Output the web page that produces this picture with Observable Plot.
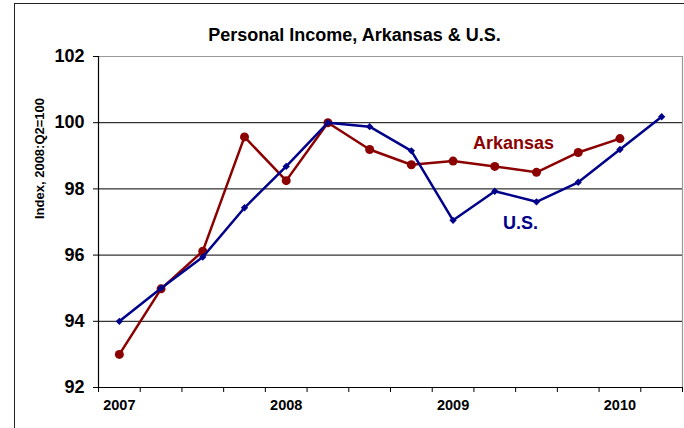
<!DOCTYPE html>
<html>
<head>
<meta charset="utf-8">
<script src="https://cdn.jsdelivr.net/npm/d3@7"></script>
<script src="https://cdn.jsdelivr.net/npm/@observablehq/plot@0.6"></script>
<style>
  html, body { margin: 0; padding: 0; background: #fff; overflow: hidden; }
  #wrap { position: relative; width: 684px; height: 428px; }
  #frame { position: absolute; left: 14px; top: 3px; width: 800px; height: 600px;
           border-left: 1.5px solid #222; border-top: 1.5px solid #222; pointer-events: none; }
</style>
</head>
<body>
<div id="wrap"><div id="chart"></div><div id="frame"></div></div>
<script>
const title = "Personal Income, Arkansas & U.S.";
const yLabel = "Index, 2008:Q2=100";
const quarters = ["2007Q1","2007Q2","2007Q3","2007Q4","2008Q1","2008Q2","2008Q3","2008Q4",
                  "2009Q1","2009Q2","2009Q3","2009Q4","2010Q1","2010Q2"];
const usValues = [94.0, 95.0, 95.94, 97.43, 98.68, 100.0, 99.88, 99.15, 97.05, 97.93, 97.61, 98.2, 99.19, 100.18];
const arkansasValues = [93.0, 94.98, 96.12, 99.57, 98.25, 100.0, 99.19, 98.73, 98.84, 98.68, 98.5, 99.1, 99.52];
const yearLabels = ["2007", "2008", "2009", "2010"];
const yTicks = [92, 94, 96, 98, 100, 102];
const gridValues = [94, 96, 98, 100];

const arColor = "#8b0000";
const usColor = "#00008b";

const us = usValues.map((v, i) => ({i, q: quarters[i], v}));
const ar = arkansasValues.map((v, i) => ({i, q: quarters[i], v}));
const boundaries = d3.range(quarters.length + 1).map(k => k - 0.5);
const yearPos = yearLabels.map(y => ({i: quarters.indexOf(y + "Q1"), text: y}));
const labelAnchor = quarters.indexOf("2009Q3");

const chart = Plot.plot({
  width: 684,
  height: 428,
  marginTop: 56,
  marginRight: 2,
  marginBottom: 41,
  marginLeft: 98,
  style: {fontFamily: "'Liberation Sans', Arial, sans-serif", background: "transparent"},
  x: {domain: [-0.5, quarters.length - 0.5], axis: null},
  y: {domain: [92, 102], axis: null},
  marks: [
    Plot.ruleY(gridValues, {stroke: "#000", strokeWidth: 1}),
    Plot.ruleY([102], {stroke: "#999", strokeWidth: 1.2}),
    Plot.ruleX([quarters.length - 0.5], {stroke: "#999", strokeWidth: 1.2}),
    Plot.ruleY([92], {stroke: "#000", strokeWidth: 1.2}),
    Plot.ruleX([-0.5], {stroke: "#000", strokeWidth: 1.2}),
    Plot.axisY(yTicks, {tickSize: 5, tickPadding: 9, fontSize: 18, fontWeight: "bold", label: null}),
    Plot.axisX(boundaries, {tickSize: 5, tickFormat: () => "", label: null}),
    Plot.text(yearPos, {x: "i", text: "text", frameAnchor: "bottom", dy: 22, fontSize: 14.5, fontWeight: "bold"}),
    Plot.text([yLabel], {frameAnchor: "left", rotate: -90, dx: -59, dy: -3, fontSize: 13, fontWeight: "bold"}),
    Plot.text([title], {frameAnchor: "top", dx: -36, dy: -28, fontSize: 18, fontWeight: "bold"}),
    Plot.line(ar, {x: "i", y: "v", stroke: arColor, strokeWidth: 2.5}),
    Plot.dot(ar, {x: "i", y: "v", r: 4.5, fill: arColor, stroke: "none"}),
    Plot.line(us, {x: "i", y: "v", stroke: usColor, strokeWidth: 2.5}),
    Plot.dot(us, {x: "i", y: "v", r: 3.3, symbol: "diamond2", fill: usColor, stroke: "none"}),
    Plot.text([ar[labelAnchor]], {x: "i", y: "v", text: () => "Arkansas", dx: -23, dy: -29, fontSize: 18, fontWeight: "bold", fill: arColor}),
    Plot.text([us[labelAnchor]], {x: "i", y: "v", text: () => "U.S.", dx: -16, dy: 21, fontSize: 18, fontWeight: "bold", fill: usColor})
  ]
});
document.getElementById("chart").appendChild(chart);
</script>
</body>
</html>
